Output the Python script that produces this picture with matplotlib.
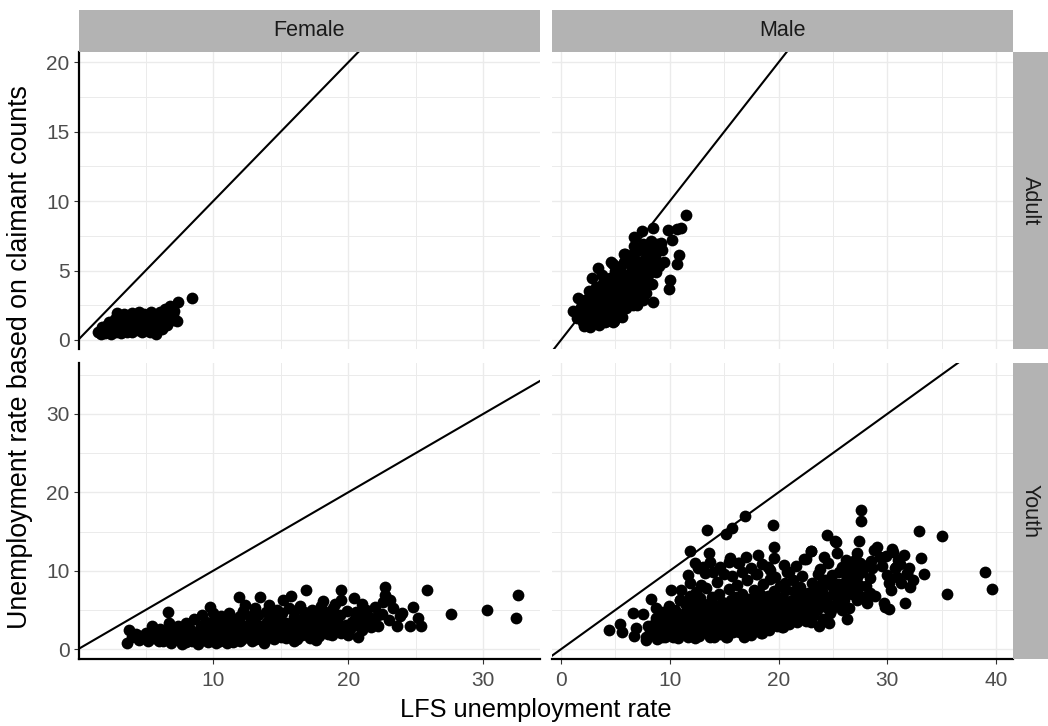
import matplotlib

matplotlib.use("Agg")
import matplotlib.pyplot as plt
from matplotlib.ticker import MultipleLocator

plt.rcParams["font.family"] = ["Liberation Sans", "DejaVu Sans"]

# facet labels
sexes = ["Female", "Male"]
ages = ["Adult", "Youth"]

# (LFS rate, claimant-count rate)
female_adult = [
    (1.5, 0.55), (1.7, 0.45), (1.9, 0.7), (2.0, 0.5), (2.1, 1.0), (2.2, 0.6),
    (2.3, 1.3), (2.4, 0.45), (2.5, 0.8), (2.6, 1.15), (2.7, 1.5), (2.8, 0.6),
    (2.9, 1.95), (3.0, 0.9), (3.1, 1.2), (3.2, 0.5), (3.3, 1.6), (3.4, 0.8),
    (3.5, 1.1), (3.5, 1.4), (3.6, 0.6), (3.7, 1.7), (3.8, 0.9), (3.9, 1.3),
    (4.0, 0.55), (4.1, 1.55), (4.2, 1.0), (4.3, 1.8), (4.4, 0.75), (4.5, 1.3),
    (4.6, 1.6), (4.7, 0.6), (4.8, 1.1), (4.9, 1.9), (5.0, 0.8), (5.1, 1.4),
    (5.2, 1.7), (5.3, 0.55), (5.4, 2.05), (5.5, 1.2), (5.6, 0.9), (5.7, 1.5),
    (5.8, 0.45), (5.9, 1.8), (6.0, 1.1), (6.1, 2.0), (6.2, 0.8), (6.3, 1.4),
    (6.4, 2.2), (6.5, 1.7), (6.6, 1.1), (6.8, 2.45), (6.9, 1.9), (7.0, 1.45),
    (7.1, 2.1), (7.3, 1.4), (7.4, 2.75), (8.4, 3.05), (2.2, 0.9), (2.7, 1.0),
    (3.1, 0.75), (3.6, 1.2), (4.0, 1.0), (4.6, 1.0), (5.2, 1.0), (5.8, 1.3),
    (6.3, 0.9), (3.4, 1.9), (4.0, 1.95), (4.5, 2.0), (1.8, 0.9), (2.4, 1.1),
    (2.9, 1.3), (3.3, 1.0), (3.9, 1.7), (4.3, 1.3), (4.9, 1.4), (5.4, 1.5),
    (6.0, 1.6), (6.6, 1.5), (7.0, 1.8),
]

male_adult = [
    (11.5, 9.0), (11.0, 8.1), (10.7, 8.0), (9.8, 7.95), (10.2, 7.2), (10.85, 6.15),
    (10.7, 5.5), (10.0, 4.35), (9.9, 3.65), (8.5, 2.75), (8.45, 8.05), (7.4, 7.85),
    (6.7, 7.4), (3.4, 5.15), (2.85, 4.5), (1.6, 3.0), (1.1, 2.1), (2.7, 0.95),
    (4.85, 1.4), (9.3, 6.45), (9.5, 5.6), (8.1, 4.05), (7.5, 2.85), (7.0, 2.5),
    (5.6, 1.65), (5.8, 6.2), (4.55, 5.6), (3.8, 4.65), (2.55, 3.55), (6.7, 6.8),
    (9.1, 6.6), (8.8, 6.9), (5.4, 1.75), (4.8, 1.3), (2.7, 1.05), (5.9, 6.2),
    (4.8, 5.5),
    (1.5, 1.6), (1.8, 2.4), (2.0, 1.3), (2.2, 2.9), (2.3, 1.8), (2.5, 2.3),
    (2.1, 1.0), (1.9, 1.9), (2.7, 1.5), (2.8, 2.7), (2.9, 3.4), (3.0, 1.2),
    (3.1, 2.1), (3.2, 3.8), (3.3, 1.7), (3.4, 2.9), (3.5, 2.4), (3.5, 1.1),
    (3.6, 3.4), (3.7, 1.6), (3.8, 2.7), (3.9, 4.1), (4.0, 2.1), (4.1, 3.1),
    (4.2, 1.4), (4.3, 3.8), (4.4, 2.5), (4.5, 4.5), (4.5, 1.9), (4.6, 3.3),
    (4.7, 2.2), (4.8, 4.1), (4.9, 2.8), (5.0, 5.0), (5.1, 3.6), (5.2, 2.0),
    (5.3, 4.4), (5.4, 3.0), (5.5, 5.3), (5.5, 2.4), (5.6, 4.0), (5.7, 3.3),
    (5.8, 5.6), (5.9, 2.7), (6.0, 4.7), (6.1, 3.6), (6.2, 5.9), (6.3, 2.9),
    (6.4, 4.3), (6.5, 5.2), (6.5, 3.3), (6.6, 6.2), (6.7, 3.9), (6.8, 4.9),
    (6.9, 3.1), (7.0, 5.7), (7.1, 4.4), (7.2, 6.5), (7.3, 3.6), (7.4, 5.1),
    (7.5, 6.9), (7.5, 4.1), (7.7, 5.8), (7.8, 3.4), (7.9, 6.4), (8.0, 4.7),
    (8.2, 5.3), (8.3, 7.1), (8.4, 4.0), (8.6, 6.0), (8.7, 4.9), (8.9, 6.5),
    (9.0, 5.3), (9.2, 7.0), (8.1, 6.7),
    (2.4, 1.5), (3.0, 2.6), (3.6, 2.0), (4.2, 2.8), (4.8, 3.5), (5.2, 4.6),
    (5.8, 4.3), (6.2, 3.4), (6.8, 5.5), (7.2, 4.9), (7.6, 4.5), (8.0, 5.8),
    (8.5, 5.4), (3.3, 1.3), (4.0, 1.3), (6.0, 2.3), (6.6, 2.5), (4.1, 4.3),
    (3.1, 3.0), (2.4, 2.6),
]

female_youth = [
    (3.6, 0.8), (3.8, 2.4), (4.0, 1.6), (4.3, 1.9), (4.5, 1.2), (4.8, 1.5),
    (5.0, 2.1), (5.2, 1.0), (5.45, 2.9), (5.6, 1.4), (5.9, 1.8), (6.1, 2.6),
    (6.3, 1.1), (6.5, 2.2), (6.65, 4.7), (6.7, 3.3), (6.85, 0.8), (7.0, 1.6),
    (7.2, 2.5), (7.4, 3.0), (7.5, 1.2), (7.7, 0.7), (7.8, 2.0), (8.0, 3.4),
    (8.1, 1.5), (8.3, 2.6), (8.4, 1.0), (8.6, 3.8), (8.7, 2.1), (8.9, 0.7),
    (9.0, 1.6), (9.1, 3.0), (9.2, 4.4), (9.3, 2.4), (9.4, 1.2), (9.5, 3.5),
    (9.6, 0.9), (9.7, 2.0), (9.8, 5.4), (9.9, 2.8), (10.0, 1.5), (10.1, 3.9),
    (10.2, 0.8), (10.3, 2.3), (10.4, 3.2), (10.5, 1.1), (10.6, 4.2), (10.7, 1.9),
    (10.8, 2.7), (10.9, 3.6), (11.0, 0.8), (11.1, 1.5), (11.2, 4.6), (11.3, 2.3),
    (11.4, 3.1), (11.5, 0.9), (11.6, 3.9), (11.7, 1.8), (11.8, 2.6), (11.9, 6.7),
    (12.0, 3.4), (12.1, 1.3), (12.2, 4.9), (12.35, 5.6), (12.4, 2.2), (12.5, 3.0),
    (12.6, 1.6), (12.7, 4.1), (12.8, 2.6), (12.9, 1.0), (13.0, 3.6), (13.1, 5.3),
    (13.2, 2.0), (13.3, 4.4), (13.4, 1.4), (13.5, 6.6), (13.6, 3.0), (13.7, 2.4),
    (13.8, 0.85), (13.9, 4.8), (14.0, 3.5), (14.1, 5.6), (14.2, 1.8), (14.3, 2.8),
    (14.4, 4.2), (14.5, 1.3), (14.6, 3.3), (14.7, 5.0), (14.8, 2.2), (14.9, 3.9),
    (15.0, 1.6), (15.1, 4.6), (15.2, 6.25), (15.3, 2.7), (15.4, 3.4), (15.5, 1.9),
    (15.6, 5.2), (15.8, 6.8), (15.9, 3.0), (16.0, 4.1), (16.2, 1.25), (16.3, 2.4),
    (16.4, 5.5), (16.5, 3.7), (16.6, 1.8), (16.7, 4.8), (16.9, 7.6), (17.0, 2.9),
    (17.1, 3.9), (17.2, 1.4), (17.3, 5.0), (17.4, 2.3), (17.5, 3.4), (17.6, 4.5),
    (17.8, 1.7), (17.9, 2.8), (18.0, 5.5), (18.15, 6.2), (18.3, 2.7), (18.4, 3.9),
    (18.5, 1.9), (18.6, 4.7), (18.8, 3.2), (18.9, 5.3), (19.0, 2.3), (19.2, 3.7),
    (19.4, 4.4), (19.5, 7.5), (19.5, 6.3), (19.5, 2.1), (19.8, 3.1), (19.9, 4.9),
    (20.1, 2.6), (20.3, 3.5), (20.4, 6.5), (20.6, 4.1), (20.7, 1.6), (20.8, 2.9),
    (21.0, 5.8), (21.2, 3.7), (21.35, 5.0), (21.5, 4.2), (21.7, 2.8), (21.8, 3.2),
    (22.0, 5.4), (22.2, 4.4), (22.6, 6.0), (22.7, 6.9), (22.7, 7.9), (23.1, 6.25),
    (23.3, 5.2), (23.6, 2.9), (23.8, 4.2), (24.0, 4.6), (24.6, 2.9), (24.8, 5.4),
    (25.2, 4.0), (25.4, 3.0), (25.85, 7.5), (27.6, 4.5), (30.3, 5.0), (32.4, 3.95),
    (32.6, 6.9),
    (8.5, 1.4), (9.0, 2.5), (9.4, 3.2), (9.8, 1.2), (10.2, 2.1), (10.6, 3.0),
    (11.0, 2.4), (11.3, 1.3), (11.7, 3.3), (12.1, 2.6), (12.5, 1.9), (12.9, 3.0),
    (13.2, 1.3), (13.5, 2.5), (13.9, 1.9), (14.2, 3.8), (14.6, 2.2), (15.0, 3.0),
    (15.4, 1.4), (15.8, 2.2), (16.2, 3.0), (16.6, 2.6), (17.0, 1.9), (17.4, 4.0),
    (17.8, 3.5), (18.2, 2.2), (18.6, 3.0), (19.0, 4.2), (19.4, 2.8), (19.8, 2.2),
    (20.2, 3.0), (20.6, 4.8), (21.0, 2.5), (21.4, 3.2), (22.2, 3.0), (22.5, 4.5),
    (23.0, 3.7), (16.0, 1.0), (17.6, 1.2), (18.8, 1.8), (20.0, 1.8), (6.0, 1.0),
    (7.2, 1.3), (8.0, 0.9), (5.5, 1.8), (6.8, 2.0),
    (8.8, 1.1), (9.6, 1.9), (10.4, 1.5), (11.2, 2.0), (12.0, 1.0), (12.7, 2.2),
    (13.3, 2.9), (14.0, 1.4), (14.8, 3.2), (15.6, 2.6), (16.4, 2.0), (17.2, 3.1),
    (18.0, 2.6), (18.5, 3.5), (19.2, 2.6), (20.0, 2.5), (20.5, 3.8), (21.2, 4.6),
    (21.9, 3.8), (7.6, 2.4), (6.4, 1.5), (5.3, 1.5), (4.6, 1.7), (10.0, 4.6),
    (11.0, 3.9), (12.0, 4.2), (13.0, 4.6), (14.5, 4.6), (16.0, 4.9), (17.0, 4.3),
    (18.0, 4.2), (19.0, 5.8),
]

male_youth = [
    (4.45, 2.45), (5.4, 3.2), (5.65, 2.2), (6.65, 4.6), (6.7, 1.65), (6.9, 2.65),
    (7.8, 1.5), (8.3, 6.35), (10.1, 7.6), (11.0, 7.5), (11.7, 9.5), (11.85, 12.5),
    (12.3, 11.0), (13.4, 15.2), (13.6, 12.2), (15.2, 14.7), (15.7, 15.5), (16.9, 17.0),
    (15.5, 11.6), (16.4, 11.0), (18.15, 12.0), (19.45, 15.8), (19.55, 13.0), (19.6, 11.6),
    (17.5, 10.4), (19.2, 10.1), (20.8, 9.8), (22.5, 11.5), (22.95, 12.55), (22.3, 11.45),
    (24.5, 14.55), (25.3, 13.7), (25.4, 12.2), (27.4, 13.8), (27.55, 17.75), (27.55, 16.3),
    (27.2, 12.3), (28.8, 12.7), (29.1, 13.0), (30.4, 12.8), (30.5, 12.4), (31.5, 12.05),
    (32.9, 15.1), (33.1, 11.6), (33.4, 9.55), (35.0, 14.45), (35.5, 7.1), (39.0, 9.8),
    (39.6, 7.65), (31.6, 5.85), (30.15, 5.1), (29.75, 5.4), (28.1, 5.85), (27.2, 6.3),
    (26.25, 3.8), (23.7, 2.95), (20.4, 2.8), (18.45, 2.05), (17.5, 1.8), (15.3, 1.55),
    (16.5, 2.2), (32.1, 7.9), (31.8, 9.7), (30.75, 10.3), (30.0, 9.5), (28.4, 9.1),
    (28.4, 7.2), (30.3, 7.55), (32.4, 8.8), (28.5, 11.2), (28.6, 10.3), (27.2, 10.3),
    (27.2, 9.25), (26.3, 8.4), (27.25, 7.35), (28.9, 6.8), (29.7, 5.9), (30.8, 10.5),
    (31.2, 10.9), (30.9, 9.15), (31.85, 9.65), (24.55, 10.95), (26.2, 11.4), (26.8, 10.6),
    (25.55, 9.9), (26.5, 7.75), (25.7, 6.7), (25.1, 7.55), (25.85, 5.05), (24.8, 5.0),
    (24.15, 6.6), (22.95, 6.25), (22.65, 4.55), (21.55, 5.4), (23.0, 12.5), (25.2, 13.75),
    (7.55, 4.55), (8.75, 5.2), (10.9, 6.25), (12.75, 6.5), (11.85, 8.4), (12.9, 8.2),
    (13.7, 11.15), (13.05, 10.5), (15.45, 11.15), (16.3, 10.95), (19.05, 10.5), (19.65, 9.25),
    (21.0, 9.9), (20.6, 8.4), (9.7, 2.45), (7.85, 1.15), (8.8, 1.35), (15.2, 1.6),
    (18.4, 2.1), (16.45, 2.2), (20.3, 2.85),
    (8.2, 2.2), (8.5, 3.1), (8.7, 4.0), (8.9, 1.8), (9.1, 2.8), (9.3, 3.6),
    (9.4, 4.8), (9.6, 1.6), (9.8, 3.2), (9.9, 5.5), (10.0, 2.3), (10.2, 4.2),
    (10.3, 1.5), (10.4, 3.0), (10.5, 5.0), (10.6, 2.2), (10.8, 3.8), (10.9, 6.3),
    (11.0, 1.9), (11.1, 2.9), (11.2, 4.5), (11.4, 3.4), (11.5, 5.6), (11.6, 2.4),
    (11.7, 1.5), (11.8, 4.1), (11.9, 6.8), (12.0, 3.0), (12.1, 2.0), (12.2, 5.2),
    (12.3, 3.7), (12.4, 7.3), (12.5, 2.6), (12.6, 4.5), (12.7, 1.7), (12.8, 6.0),
    (12.9, 3.3), (13.0, 5.0), (13.1, 2.2), (13.2, 4.0), (13.3, 7.8), (13.4, 2.9),
    (13.5, 5.7), (13.6, 3.6), (13.7, 1.5), (13.8, 4.6), (13.9, 6.6), (14.0, 2.5),
    (14.1, 3.9), (14.2, 5.3), (14.3, 8.6), (14.4, 3.0), (14.5, 7.0), (14.6, 2.0),
    (14.7, 4.4), (14.8, 6.0), (14.9, 3.4), (15.0, 5.0), (15.1, 2.6), (15.3, 4.1),
    (15.4, 7.7), (15.5, 3.0), (15.6, 5.6), (15.7, 9.3), (15.8, 2.2), (15.9, 4.6),
    (16.0, 6.6), (16.1, 3.5), (16.2, 8.2), (16.3, 2.8), (16.4, 5.2), (16.5, 4.0),
    (16.6, 7.1), (16.7, 3.1), (16.8, 5.9), (16.9, 2.4), (17.0, 4.7), (17.1, 8.8),
    (17.2, 3.6), (17.3, 6.4), (17.4, 2.6), (17.5, 5.3), (17.6, 4.2), (17.7, 7.5),
    (17.8, 3.2), (17.9, 9.6), (18.0, 5.8), (18.1, 2.8), (18.2, 4.5), (18.3, 7.0),
    (18.4, 3.6), (18.5, 6.1), (18.6, 8.3), (18.7, 3.0), (18.8, 5.0), (18.9, 4.0),
    (19.0, 6.8), (19.1, 2.5), (19.2, 8.9), (19.3, 4.6), (19.4, 5.6), (19.5, 3.4),
    (19.6, 7.4), (19.7, 4.2), (19.8, 6.2), (19.9, 3.0), (20.0, 5.1), (20.1, 8.0),
    (20.2, 4.0), (20.3, 6.7), (20.5, 3.4), (20.6, 5.6), (20.7, 7.6), (20.9, 4.5),
    (21.0, 3.2), (21.1, 6.2), (21.3, 8.8), (21.4, 4.0), (21.6, 6.9), (21.7, 3.5),
    (21.8, 5.0), (22.0, 7.9), (22.1, 4.4), (22.2, 9.3), (22.4, 6.0), (22.5, 3.6),
    (22.7, 7.2), (22.8, 5.0), (23.1, 8.4), (23.2, 4.2), (23.4, 6.6), (23.6, 9.6),
    (23.8, 5.5), (24.0, 7.4), (24.1, 3.9), (24.3, 8.8), (24.5, 6.0), (24.7, 4.6),
    (24.9, 9.4), (25.0, 7.0), (25.3, 5.6), (25.5, 8.3), (25.8, 10.5), (26.0, 6.3),
    (26.3, 9.2), (26.5, 5.2), (26.8, 7.0), (27.0, 11.4), (27.4, 8.2), (27.7, 9.9),
    (27.9, 6.6), (28.2, 10.7), (28.0, 8.0), (29.3, 11.7), (29.5, 10.6), (29.9, 11.9),
    (30.2, 8.5), (31.0, 11.4), (31.3, 8.4), (32.0, 10.3), (13.2, 9.7), (12.6, 10.3),
    (14.0, 9.9), (14.6, 10.5), (15.0, 9.6), (16.6, 9.9), (18.5, 10.9), (17.0, 11.7),
    (18.0, 9.6), (21.6, 10.6), (20.5, 10.7), (23.8, 10.2), (24.2, 11.8),
    (8.4, 2.6), (8.8, 3.5), (9.2, 2.0), (9.5, 4.2), (9.9, 2.6), (10.2, 3.5),
    (10.6, 4.4), (10.9, 2.6), (11.3, 3.9), (11.6, 4.9), (12.0, 2.4), (12.2, 4.3),
    (12.5, 3.4), (12.8, 2.1), (13.0, 3.9), (13.3, 5.3), (13.6, 2.4), (13.9, 3.6),
    (14.2, 4.6), (14.5, 2.8), (14.8, 3.8), (15.1, 5.7), (15.4, 2.6), (15.7, 4.0),
    (16.0, 3.0), (16.3, 4.5), (16.6, 5.5), (16.9, 3.6), (17.2, 4.9), (17.5, 2.9),
    (17.8, 4.0), (18.1, 6.4), (18.4, 5.2), (18.7, 4.2), (19.0, 3.3), (19.3, 5.3),
    (19.6, 3.8), (19.9, 6.5), (20.2, 4.7), (20.5, 5.9), (20.8, 3.6), (21.1, 5.0),
    (21.4, 7.4), (21.8, 4.2), (22.1, 6.7), (22.5, 5.4), (23.0, 7.0), (23.5, 5.0),
    (24.0, 8.4), (24.4, 5.4), (25.0, 8.0), (25.5, 6.2), (26.0, 7.3), (26.5, 9.8),
    (23.0, 3.5), (24.6, 3.4),
    (8.0, 3.0), (8.6, 2.0), (9.0, 4.4), (9.6, 3.9), (10.4, 2.6), (10.7, 3.4),
    (11.2, 2.2), (11.5, 4.2), (12.0, 5.7), (12.4, 2.9), (12.9, 4.5), (13.4, 3.4),
    (13.8, 2.0), (14.0, 5.6), (14.4, 4.0), (14.9, 2.3), (15.2, 3.4), (15.6, 6.3),
    (15.9, 3.9), (16.2, 2.3), (16.5, 6.1), (16.8, 4.4), (17.1, 3.0), (17.4, 5.9),
    (17.7, 3.7), (18.0, 4.9), (18.3, 3.2), (18.6, 5.6), (19.0, 4.6), (19.3, 3.0),
    (19.6, 5.0), (20.0, 3.6), (20.4, 4.3), (20.9, 5.4), (21.3, 4.5), (21.7, 6.0),
    (22.3, 4.9), (22.9, 6.0), (23.5, 7.5), (24.2, 6.8), (24.8, 8.2), (25.4, 7.3),
    (26.0, 8.5), (26.7, 8.3), (27.5, 11.0), (9.3, 1.5), (10.8, 1.4), (12.3, 1.4),
    (14.1, 1.6), (16.8, 1.6),
]

panels = {
    ("Adult", "Female"): female_adult,
    ("Adult", "Male"): male_adult,
    ("Youth", "Female"): female_youth,
    ("Youth", "Male"): male_youth,
}

# free scales per column / row
x_limits = {"Female": (0.03, 34.2), "Male": (-0.83, 41.56)}
x_steps = {"Female": (10, 5), "Male": (10, 5)}
y_limits = {"Adult": (-0.65, 20.77), "Youth": (-1.25, 36.55)}
y_steps = {"Adult": (5, 2.5), "Youth": (10, 5)}

W, H = 1048, 726
col_px = {"Female": (78.5, 540), "Male": (552, 1013)}
row_px = {"Adult": (51.7, 349), "Youth": (362.5, 659)}

fig = plt.figure(figsize=(W / 100, H / 100), dpi=100)

grid_col = "#EBEBEB"
strip_col = "#B3B3B3"

for age in ages:
    for sex in sexes:
        x0, x1 = col_px[sex]
        y0, y1 = row_px[age]
        ax = fig.add_axes([x0 / W, 1 - y1 / H, (x1 - x0) / W, (y1 - y0) / H])
        xs, ys = zip(*panels[(age, sex)])
        ax.axline((0, 0), slope=1, color="black", lw=1.5, zorder=2)
        ax.scatter(xs, ys, s=72, color="black", linewidths=0, zorder=3)

        ax.set_xlim(*x_limits[sex])
        ax.set_ylim(*y_limits[age])
        ax.xaxis.set_major_locator(MultipleLocator(x_steps[sex][0]))
        ax.xaxis.set_minor_locator(MultipleLocator(x_steps[sex][1]))
        ax.yaxis.set_major_locator(MultipleLocator(y_steps[age][0]))
        ax.yaxis.set_minor_locator(MultipleLocator(y_steps[age][1]))
        ax.grid(which="major", color=grid_col, lw=1.0, zorder=0)
        ax.grid(which="minor", color=grid_col, lw=0.7, zorder=0)
        ax.set_axisbelow(True)
        for sp in ax.spines.values():
            sp.set_visible(False)

        ax.tick_params(which="minor", length=0)
        ax.tick_params(which="major", labelsize=15, labelcolor="#4D4D4D",
                       color="#333333", length=3.5, width=0.8, pad=3)
        ax.tick_params(axis="x", which="major", pad=5)
        if sex == "Female":
            ax.spines["left"].set_visible(True)
            ax.spines["left"].set_linewidth(1.6)
        else:
            ax.tick_params(axis="y", which="both", left=False, labelleft=False)
        if age == "Youth":
            ax.spines["bottom"].set_visible(True)
            ax.spines["bottom"].set_linewidth(1.6)
        else:
            ax.tick_params(axis="x", which="both", bottom=False, labelbottom=False)

# top strips
for sex in sexes:
    x0, x1 = col_px[sex]
    sax = fig.add_axes([x0 / W, 1 - 51.7 / H, (x1 - x0) / W, 41.7 / H])
    sax.set_facecolor(strip_col)
    sax.set_xticks([])
    sax.set_yticks([])
    for sp in sax.spines.values():
        sp.set_visible(False)
    sax.text(0.5, 0.5, sex, ha="center", va="center", fontsize=15.5,
             color="#1A1A1A", transform=sax.transAxes)

# right strips
for age in ages:
    y0, y1 = row_px[age]
    sax = fig.add_axes([1013 / W, 1 - y1 / H, 35 / W, (y1 - y0) / H])
    sax.set_facecolor(strip_col)
    sax.set_xticks([])
    sax.set_yticks([])
    for sp in sax.spines.values():
        sp.set_visible(False)
    sax.text(0.5, 0.5, age, ha="center", va="center", fontsize=15.5,
             color="#1A1A1A", rotation=-90, transform=sax.transAxes)

fig.text(0.511, 0.022, "LFS unemployment rate", ha="center", va="center",
         fontsize=18.3)
fig.text(0.019, 0.508, "Unemployment rate based on claimant counts",
         ha="center", va="center", rotation=90, fontsize=19.3)

fig.savefig("out.png", dpi=100)
